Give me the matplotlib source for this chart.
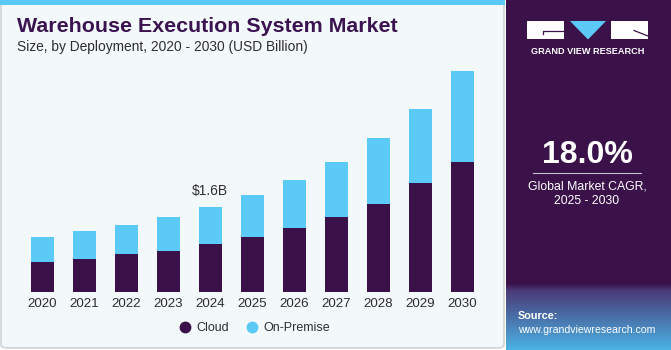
import matplotlib.pyplot as plt
import numpy as np
from matplotlib.patches import Rectangle, FancyBboxPatch, Polygon
from matplotlib.lines import Line2D

# Data (USD Billion)
years = ["2020", "2021", "2022", "2023", "2024", "2025",
         "2026", "2027", "2028", "2029", "2030"]
cloud = [0.56, 0.62, 0.71, 0.78, 0.91, 1.04, 1.21, 1.41, 1.67, 2.05, 2.45]
on_premise = [0.48, 0.53, 0.55, 0.63, 0.69, 0.80, 0.90, 1.04, 1.23, 1.40, 1.72]
series_names = ["Cloud", "On-Premise"]
callout_year = "2024"
callout_text = "$1.6B"

# Styles
W, H = 671, 350
PURPLE = "#3a1149"
BLUE = "#5bcaf6"
PANEL_BG = "#f3f8fb"
TEXT = "#2e2e2e"
FONT = "Liberation Sans"
plt.rcParams["font.family"] = [FONT, "DejaVu Sans"]


def fx(x):
    return x / W


def fy(y):
    return 1 - y / H


fig = plt.figure(figsize=(W / 100, H / 100), dpi=100)
fig.patch.set_facecolor("white")

# left panel background + border
fig.patches.append(FancyBboxPatch((fx(1), fy(348)), fx(503), 346 / H,
                                  boxstyle="round,pad=0,rounding_size=0.01",
                                  transform=fig.transFigure, facecolor=PANEL_BG,
                                  edgecolor="#d2d4d6", linewidth=1.2, zorder=-2))
fig.patches.append(Rectangle((0, fy(5)), fx(505), 5 / H, transform=fig.transFigure,
                             facecolor=BLUE, edgecolor="none", zorder=-1))

# right panel with gradient bottom
grad_ax = fig.add_axes([fx(506), 0, 1 - fx(506), 1], zorder=-1)
grad_ax.set_axis_off()
top = np.array([0x3a, 0x11, 0x49]) / 255
mid = np.array([0x4a, 0x3a, 0x78]) / 255
bot = np.array([0x4a, 0xb4, 0xe6]) / 255
rows = []
for i in range(H):
    if i < 283:
        rows.append(top)
    elif i < 290:
        t = (i - 283) / 7
        rows.append(top * (1 - t) + mid * t)
    else:
        t = (i - 290) / (H - 290)
        rows.append(mid * (1 - t) + bot * t)
img = np.array(rows)[:, None, :]
grad_ax.imshow(img, aspect="auto", extent=[0, 1, 0, 1])
grad_ax.set_xlim(0, 1)
grad_ax.set_ylim(0, 1)

# logo
fig.patches.append(Rectangle((fx(527), fy(39)), fx(37), 18 / H, transform=fig.transFigure,
                             facecolor="white", edgecolor="none", zorder=5))
fig.patches.append(Rectangle((fx(611), fy(39)), fx(37), 18 / H, transform=fig.transFigure,
                             facecolor="white", edgecolor="none", zorder=5))
fig.patches.append(Polygon([(fx(570), fy(21)), (fx(606), fy(21)), (fx(588), fy(39.5))],
                           closed=True, transform=fig.transFigure,
                           facecolor=BLUE, edgecolor="none", zorder=5))
fig.lines.append(Line2D([fx(543), fx(543), fx(564)], [fy(34), fy(30.5), fy(30.5)],
                        transform=fig.transFigure, color=PURPLE, linewidth=0.9, zorder=6))
fig.lines.append(Line2D([fx(634), fx(648)], [fy(30.5), fy(36)],
                        transform=fig.transFigure, color=PURPLE, linewidth=0.9, zorder=6))
fig.text(fx(587.5), fy(51), "GRAND VIEW RESEARCH", color="white", fontsize=6.6,
         fontweight="bold", ha="center", va="center")

# CAGR block
fig.text(fx(587), fy(155), "18.0%", color="white", fontsize=23, fontweight="bold",
         ha="center", va="center")
fig.lines.append(Line2D([fx(533), fx(641)], [fy(173), fy(173)], transform=fig.transFigure,
                        color="#c9c2d2", linewidth=0.8))
fig.text(fx(587), fy(186), "Global Market CAGR,", color="white", fontsize=8.8,
         ha="center", va="center")
fig.text(fx(587), fy(201), "2025 - 2030", color="white", fontsize=8.8,
         ha="center", va="center")

# source
fig.text(fx(518), fy(316), "Source:", color="white", fontsize=7.8, fontweight="bold",
         ha="left", va="center")
fig.text(fx(518), fy(330), "www.grandviewresearch.com", color="white", fontsize=7.6,
         ha="left", va="center")

# titles
fig.text(fx(17), fy(27), "Warehouse Execution System Market", color="#3b1350",
         fontsize=15.4, fontweight="bold", ha="left", va="center")
fig.text(fx(17), fy(47), "Size, by Deployment, 2020 - 2030 (USD Billion)", color=TEXT,
         fontsize=9.9, ha="left", va="center")

# bar chart
ymax = 4.5
px_per_unit = 1 / 0.01889
ax = fig.add_axes([fx(21.3), fy(292), fx(462), ymax * px_per_unit / H], zorder=2)
ax.patch.set_alpha(0)
x = np.arange(len(years))
ax.bar(x, cloud, width=0.55, color=PURPLE, label=series_names[0], zorder=2)
ax.bar(x, on_premise, width=0.55, bottom=cloud, color=BLUE, label=series_names[1], zorder=2)
ax.set_xlim(-0.5, len(years) - 0.5)
ax.set_ylim(0, ymax)
ax.set_xticks(x)
ax.set_xticklabels(years, fontsize=9.6, color=TEXT)
ax.tick_params(axis="x", length=0, pad=4)
ax.set_yticks([])
for s in ax.spines.values():
    s.set_visible(False)

ci = years.index(callout_year)
ax.text(ci, cloud[ci] + on_premise[ci] + 0.17, callout_text, ha="center", va="bottom",
        fontsize=10, color=TEXT)

handles = [Line2D([], [], marker="o", linestyle="none", markersize=7.5, color=c)
           for c in (PURPLE, BLUE)]
fig.legend(handles, series_names, loc="center", bbox_to_anchor=(fx(255), fy(328)),
           ncol=2, frameon=False, fontsize=9, handlelength=0.8, handletextpad=0.5,
           columnspacing=1.4, labelcolor=TEXT)

fig.savefig("out.png", dpi=100)
